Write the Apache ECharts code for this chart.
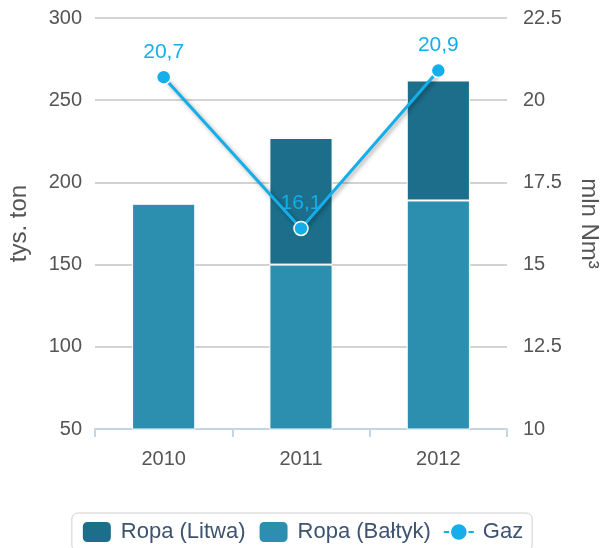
<!DOCTYPE html>
<html>
<head>
<meta charset="utf-8">
<script src="https://cdn.jsdelivr.net/npm/echarts@6/dist/echarts.min.js"></script>
<style>
  html, body { margin: 0; padding: 0; background: #fff; }
  #chart { width: 604px; height: 548px; }
</style>
</head>
<body>
<div id="chart"></div>
<script>
// dane
const years = ['2010', '2011', '2012'];
const ropaLitwa = [null, 77, 73];
const ropaBaltyk = [187, 150, 189];
const gaz = [20.7, 16.1, 20.9];

const myChart = echarts.init(document.getElementById('chart'));
const font = 'Liberation Sans, Arial, sans-serif';

const option = {
  backgroundColor: '#fff',
  animation: false,
  textStyle: { fontFamily: font },
  grid: { left: 95, right: 97, top: 18, bottom: 119, outerBoundsMode: 'none', containLabel: false },
  legend: {
    top: 513,
    left: 'center',
    padding: [7, 9],
    itemGap: 12,
    itemWidth: 30,
    itemHeight: 22,
    borderColor: '#d0d0d0',
    borderWidth: 1,
    borderRadius: 6,
    textStyle: { fontSize: 22, color: '#3d5470', fontFamily: font, padding: [0, 0, 0, 4] },
    data: [
      { name: 'Ropa (Litwa)', icon: 'roundRect' },
      { name: 'Ropa (Bałtyk)', icon: 'roundRect' },
      { name: 'Gaz' }
    ]
  },
  xAxis: {
    type: 'category',
    data: years,
    axisLine: { lineStyle: { color: '#c5d5e4', width: 2 } },
    axisTick: { show: true, length: 8, lineStyle: { color: '#c5d5e4', width: 2 } },
    axisLabel: { fontSize: 20, color: '#555', margin: 20 }
  },
  yAxis: [
    {
      type: 'value',
      min: 50,
      max: 300,
      interval: 50,
      name: 'tys. ton',
      nameLocation: 'middle',
      nameGap: 64,
      nameTextStyle: { fontSize: 24, color: '#555' },
      axisLine: { show: false },
      axisTick: { show: false },
      axisLabel: { fontSize: 20, color: '#555', margin: 13 },
      splitLine: { lineStyle: { color: '#c4c4c4', width: 1.5 } }
    },
    {
      type: 'value',
      min: 10,
      max: 22.5,
      interval: 2.5,
      name: 'mln Nm³',
      nameLocation: 'middle',
      nameGap: 70,
      nameRotate: -90,
      nameTextStyle: { fontSize: 24, color: '#555' },
      axisLine: { show: false },
      axisTick: { show: false },
      axisLabel: { fontSize: 20, color: '#555', margin: 16 },
      splitLine: { show: false }
    }
  ],
  series: [
    {
      name: 'Ropa (Bałtyk)',
      type: 'bar',
      stack: 'ropa',
      barWidth: '46%',
      itemStyle: { color: '#2c8fb0', borderColor: '#fff', borderWidth: 1 },
      data: ropaBaltyk
    },
    {
      name: 'Ropa (Litwa)',
      type: 'bar',
      stack: 'ropa',
      barWidth: '46%',
      itemStyle: { color: '#1c6e8a', borderColor: '#fff', borderWidth: 1 },
      data: ropaLitwa
    },
    {
      name: 'Gaz',
      type: 'line',
      yAxisIndex: 1,
      symbol: 'circle',
      symbolSize: 14,
      z: 5,
      lineStyle: {
        color: '#14aeea',
        width: 3,
        shadowColor: 'rgba(0,0,0,0.35)',
        shadowBlur: 4,
        shadowOffsetX: 2,
        shadowOffsetY: 2
      },
      itemStyle: { color: '#14aeea', borderColor: '#fff', borderWidth: 1.5 },
      label: {
        show: true,
        position: 'top',
        distance: 7,
        fontSize: 21,
        color: '#14aeea',
        formatter: (p) => String(p.value).replace('.', ',')
      },
      data: gaz
    }
  ]
};

myChart.setOption(option);
</script>
</body>
</html>
